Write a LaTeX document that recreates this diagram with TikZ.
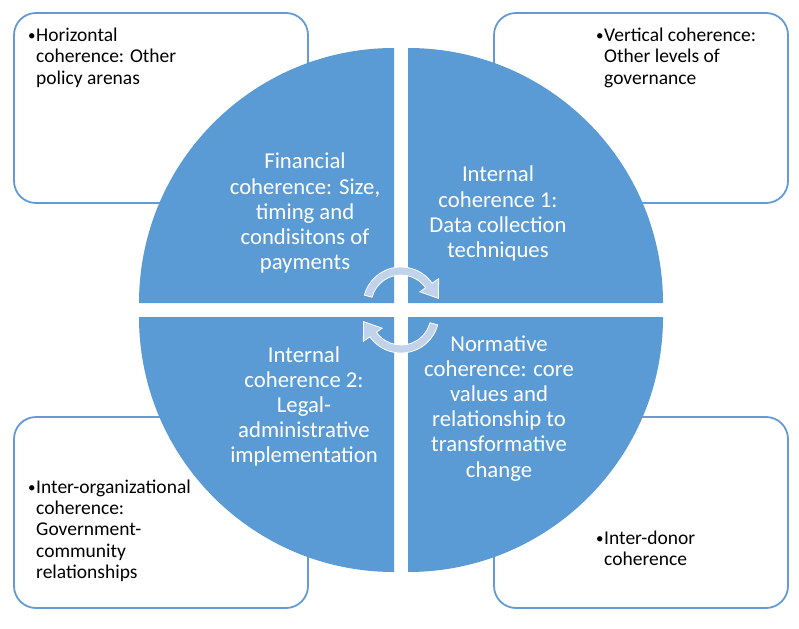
\documentclass[tikz,border=0pt]{standalone}
\usepackage{fontspec}
\setmainfont{Carlito}
\definecolor{quad}{RGB}{91,155,213}
\definecolor{boxline}{RGB}{100,155,215}
\definecolor{arrowfill}{RGB}{192,211,235}
\newcommand{\bulletmark}{\makebox[9pt][l]{\hspace{0.8pt}\raisebox{0.8pt}{\fontsize{15}{15}\selectfont •}}}
\begin{document}
\begin{tikzpicture}[x=1pt,y=1pt,
  cornerbox/.style={draw=boxline, line width=1.8pt, rounded corners=22pt, fill=white, inner sep=0pt},
  quadrant/.style={fill=quad},
  quadtext/.style={text=white, inner sep=0pt, anchor=base, font=\fontsize{22.7}{25.2}\selectfont},
  boxtext/.style={text=black, inner sep=0pt, anchor=base west, font=\fontsize{19.5}{21.3}\selectfont},
  cyclearrow/.style={fill=arrowfill, draw=white, line width=0.8pt}]
\useasboundingbox (0,0) rectangle (799,-628);
\fill[white] (0,0) rectangle (799,-628);

% corner boxes
\node[cornerbox, minimum width=294pt, minimum height=190pt] (boxTL) at (161,-108) {};
\node[cornerbox, minimum width=294pt, minimum height=190pt] (boxTR) at (641,-108) {};
\node[cornerbox, minimum width=294pt, minimum height=191pt] (boxBL) at (161,-512.5) {};
\node[cornerbox, minimum width=294pt, minimum height=191pt] (boxBR) at (641,-512.5) {};

% quadrants
\path[quadrant] (394,-303) -- ++(-255,0) arc[start angle=180,end angle=90,radius=255pt] -- cycle;
\path[quadrant] (408,-303) -- ++(0,255) arc[start angle=90,end angle=0,radius=255pt] -- cycle;
\path[quadrant] (394,-317) -- ++(0,-255) arc[start angle=270,end angle=180,radius=255pt] -- cycle;
\path[quadrant] (408,-317) -- ++(255,0) arc[start angle=0,end angle=-90,radius=255pt] -- cycle;

% quadrant texts
\node[quadtext] (qTL) at (305,-169) {\begin{tabular}[t]{@{}c@{}}Financial\\coherence: Size,\\timing and\\condisitons of\\payments\end{tabular}};
\node[quadtext] (qTR) at (498,-182) {\begin{tabular}[t]{@{}c@{}}Internal\\coherence 1:\\Data collection\\techniques\end{tabular}};
\node[quadtext] (qBL) at (304,-362) {\begin{tabular}[t]{@{}c@{}}Internal\\coherence 2:\\Legal-\\administrative\\implementation\end{tabular}};
\node[quadtext] (qBR) at (499,-351) {\begin{tabular}[t]{@{}c@{}}Normative\\coherence: core\\values and\\relationship to\\transformative\\change\end{tabular}};

% box texts
\node[boxtext] (tTL) at (27,-41.6) {\begin{tabular}[t]{@{}l@{}l@{}}\bulletmark&Horizontal\\&coherence: Other\\&policy arenas\end{tabular}};
\node[boxtext] (tTR) at (595,-41.6) {\begin{tabular}[t]{@{}l@{}l@{}}\bulletmark&Vertical coherence:\\&Other levels of\\&governance\end{tabular}};
\node[boxtext] (tBL) at (27,-493.3) {\begin{tabular}[t]{@{}l@{}l@{}}\bulletmark&Inter-organizational\\&coherence:\\&Government-\\&community\\&relationships\end{tabular}};
\node[boxtext] (tBR) at (595,-544.3) {\begin{tabular}[t]{@{}l@{}l@{}}\bulletmark&Inter-donor\\&coherence\end{tabular}};

% cycle arrows
\begin{scope}[shift={(401,-310)}]
  \begin{scope}[yshift=5pt]
    \path[cyclearrow] (165:30pt) -- (165:38pt) arc[start angle=165,end angle=35,radius=38pt]
      -- (35:46pt) -- (10:38pt) -- (35:23pt) -- (35:30pt)
      arc[start angle=35,end angle=165,radius=30pt] -- cycle;
  \end{scope}
  \begin{scope}[rotate=180]
    \begin{scope}[yshift=5pt]
      \path[cyclearrow] (165:30pt) -- (165:38pt) arc[start angle=165,end angle=35,radius=38pt]
        -- (35:46pt) -- (10:38pt) -- (35:23pt) -- (35:30pt)
        arc[start angle=35,end angle=165,radius=30pt] -- cycle;
    \end{scope}
  \end{scope}
\end{scope}
\end{tikzpicture}
\end{document}
